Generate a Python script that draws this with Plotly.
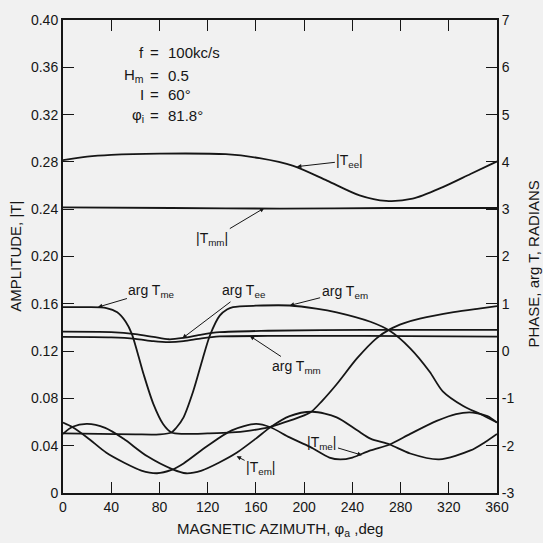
import plotly.graph_objects as go

# ---- amplitude curves (left axis, |T|) ----
az_tee = [0, 20, 40, 80, 135, 163, 191, 219, 246, 268, 290, 315, 338, 360]
amp_tee = [0.2815, 0.2845, 0.286, 0.287, 0.2865, 0.2832, 0.2767, 0.2642, 0.2517,
           0.2470, 0.2489, 0.2587, 0.2698, 0.2804]

az_tmm = [0, 90, 180, 270, 360]
amp_tmm = [0.2415, 0.241, 0.2405, 0.241, 0.241]

az_tme = [0, 8, 20, 36, 50, 65, 78, 90, 100, 120, 140, 160, 172, 188, 205, 221,
          230, 240, 255, 271, 288, 310, 326, 340, 352, 360]
amp_tme = [0.0596, 0.0556, 0.047, 0.034, 0.026, 0.019, 0.0167, 0.0195, 0.025,
           0.040, 0.053, 0.0584, 0.0556, 0.047, 0.039, 0.030, 0.0284, 0.030,
           0.036, 0.041, 0.050, 0.061, 0.0668, 0.068, 0.065, 0.0596]

az_tem = [0, 8, 20, 35, 50, 70, 91, 102, 115, 130, 144, 160, 172, 188, 207, 227,
          244, 255, 271, 288, 312, 338, 350, 360]
amp_tem = [0.050, 0.056, 0.0584, 0.055, 0.046, 0.031, 0.020, 0.0167, 0.019, 0.026,
           0.034, 0.046, 0.0556, 0.065, 0.0687, 0.064, 0.053, 0.046, 0.041, 0.0334,
           0.0284, 0.036, 0.043, 0.050]

# ---- phase curves (right axis, arg T in radians) ----
az_arg_tee = [0, 40, 60, 75, 88, 100, 115, 130, 170, 250, 360]
arg_tee = [0.41, 0.40, 0.36, 0.30, 0.25, 0.28, 0.35, 0.40, 0.43, 0.45, 0.45]

az_arg_tmm = [0, 40, 60, 75, 88, 100, 115, 130, 170, 250, 360]
arg_tmm = [0.30, 0.29, 0.26, 0.21, 0.19, 0.21, 0.27, 0.31, 0.32, 0.32, 0.305]

az_arg_tme = [0, 20, 36, 45, 52, 57, 62, 67, 75, 83, 90, 100, 120, 140, 155, 165,
              172, 188, 205, 215, 227, 244, 260, 271, 283, 296, 324, 345, 360]
arg_tme = [0.93, 0.93, 0.91, 0.82, 0.62, 0.37, -0.05, -0.50, -1.12, -1.54, -1.72,
           -1.75, -1.74, -1.72, -1.68, -1.64, -1.60, -1.47, -1.30, -1.05, -0.70,
           -0.15, 0.27, 0.46, 0.59, 0.685, 0.824, 0.90, 0.95]

az_arg_tem = [0, 30, 60, 80, 90, 94, 100, 108, 116, 122, 130, 136, 141, 160, 188,
              210, 227, 255, 271, 288, 304, 315, 332, 346, 360]
arg_tem = [-1.74, -1.75, -1.76, -1.76, -1.72, -1.62, -1.40, -0.85, -0.15, 0.34,
           0.75, 0.88, 0.93, 0.96, 0.964, 0.90, 0.82, 0.62, 0.43, 0.06, -0.43,
           -0.85, -1.16, -1.33, -1.51]

# ---- axis ticks ----
x_ticks = list(range(0, 361, 40))
amp_ticks = [0, 0.04, 0.08, 0.12, 0.16, 0.20, 0.24, 0.28, 0.32, 0.36, 0.40]
amp_tick_text = ["0", "0.04", "0.08", "0.12", "0.16", "0.20", "0.24", "0.28",
                 "0.32", "0.36", "0.40"]
phase_ticks = [-3, -2, -1, 0, 1, 2, 3, 4, 5, 6, 7]
phase_tick_text = ["-3", "-2", "-1", "0", "1", "2", "3", "4", "5", "6", "7"]

INK = "#161616"
BG = "#f1f1f1"
FONT = "Liberation Sans, Arial, sans-serif"
LW = 1.8

fig = go.Figure()


def add_curve(x, y, axis):
    fig.add_trace(go.Scatter(
        x=x, y=y, yaxis=axis, mode="lines",
        line=dict(color=INK, width=LW, shape="spline", smoothing=0.8),
        hoverinfo="skip", showlegend=False))


add_curve(az_tee, amp_tee, "y")
add_curve(az_tmm, amp_tmm, "y")
add_curve(az_tme, amp_tme, "y")
add_curve(az_tem, amp_tem, "y")
add_curve(az_arg_tee, arg_tee, "y2")
add_curve(az_arg_tmm, arg_tmm, "y2")
add_curve(az_arg_tme, arg_tme, "y2")
add_curve(az_arg_tem, arg_tem, "y2")

# ---- curve labels with pointers ----
labels = [
    # text, x, y, axis, ax, ay
    ("|T<sub>ee</sub>|", 194, 0.276, "y", 53, -6),
    ("|T<sub>mm</sub>|", 167, 0.241, "y", -52, 31),
    ("arg T<sub>me</sub>", 29, 0.93, "y2", 54, -16),
    ("arg T<sub>ee</sub>", 99, 0.27, "y2", 62, -47),
    ("arg T<sub>em</sub>", 188, 0.964, "y2", 55, -14),
    ("arg T<sub>mm</sub>", 155, 0.32, "y2", 47, 31),
    ("|T<sub>me</sub>|", 248, 0.032, "y", -40, -12),
    ("|T<sub>em</sub>|", 144, 0.031, "y", 24, 12),
]
for text, x, y, axis, ax, ay in labels:
    fig.add_annotation(
        x=x, y=y, xref="x", yref=axis, text=text, showarrow=True,
        ax=ax, ay=ay, arrowhead=2, arrowsize=0.9, arrowwidth=1,
        arrowcolor=INK, font=dict(family=FONT, size=14, color=INK))

# ---- parameter block ----
params = [("f", "100kc/s", 0.3725), ("H<sub>m</sub>", "0.5", 0.3533),
          ("I", "60°", 0.3366), ("φ<sub>i</sub>", "81.8°", 0.3190)]
for left, right, yv in params:
    fig.add_annotation(x=68.8, y=yv, xref="x", yref="y", text=left,
                       showarrow=False, xanchor="right", yanchor="middle",
                       font=dict(family=FONT, size=15, color=INK))
    fig.add_annotation(x=76.3, y=yv, xref="x", yref="y", text="=",
                       showarrow=False, xanchor="center", yanchor="middle",
                       font=dict(family=FONT, size=15, color=INK))
    fig.add_annotation(x=85.4, y=yv, xref="x", yref="y", text=right,
                       showarrow=False, xanchor="left", yanchor="middle",
                       font=dict(family=FONT, size=15, color=INK))

# ---- axis titles ----
fig.add_annotation(x=-0.11, y=0.5, xref="paper", yref="paper",
                   xanchor="center", yanchor="middle",
                   text="AMPLITUDE, |T|", textangle=-90, showarrow=False,
                   font=dict(family=FONT, size=15, color=INK))
fig.add_annotation(x=1.085, y=0.485, xref="paper", yref="paper",
                   xanchor="center", yanchor="middle",
                   text="PHASE, arg T, RADIANS", textangle=-90, showarrow=False,
                   font=dict(family=FONT, size=15, color=INK))
fig.add_annotation(x=0.5, y=-0.078, xref="paper", yref="paper",
                   xanchor="center", yanchor="middle",
                   text="MAGNETIC AZIMUTH, φ<sub>a</sub> ,deg", showarrow=False,
                   font=dict(family=FONT, size=15, color=INK))

axis_common = dict(showgrid=False, zeroline=False, showline=True,
                   linecolor=INK, linewidth=2, ticks="inside", ticklen=11,
                   tickwidth=1.3, tickcolor=INK,
                   tickfont=dict(family=FONT, size=14, color=INK))

fig.update_layout(
    width=543, height=543,
    margin=dict(l=63, r=46, t=14, b=50),
    paper_bgcolor=BG, plot_bgcolor=BG,
    xaxis=dict(range=[0, 360], tickvals=x_ticks, mirror="ticks", **axis_common),
    yaxis=dict(range=[0, 0.40], tickvals=amp_ticks, ticktext=amp_tick_text,
               **axis_common),
    yaxis2=dict(range=[-3, 7], tickvals=phase_ticks, ticktext=phase_tick_text,
                overlaying="y", side="right", **axis_common),
)

fig.write_html("out.html")
